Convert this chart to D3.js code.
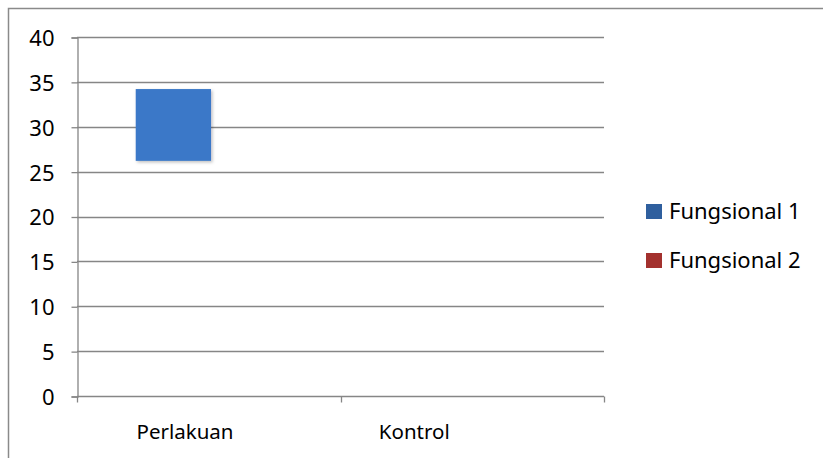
<!DOCTYPE html>
<html>
<head>
<meta charset="utf-8">
<script src="https://cdn.jsdelivr.net/npm/d3@7"></script>
<style>
  html, body { margin: 0; padding: 0; background: #fff; }
  svg { display: block; }
  text { font-family: "Noto Sans", "Open Sans", sans-serif; fill: #000; }
</style>
</head>
<body>
<svg id="chart" width="823" height="458"></svg>
<script>
// Categories on the horizontal axis
const categories = ["Perlakuan", "Kontrol"];
// Series names shown in the legend
const seriesNames = ["Fungsional 1", "Fungsional 2"];
// Floating bar ranges per series: [low, high] for each category (null = no bar)
const fungsional1 = [[26.2, 34.2], null];
const fungsional2 = [null, null];
// Value axis ticks
const yTicks = [0, 5, 10, 15, 20, 25, 30, 35, 40];

const seriesColors = ["#3a78c8", "#a3312e"];
const legendColors = ["#2f5f9e", "#a3312e"];

const svg = d3.select("#chart");
const W = 823, H = 458;

// Outer frame (top and left edges visible, the rest runs off the page)
svg.append("rect")
  .attr("x", 8.5).attr("y", 8.5)
  .attr("width", W + 20).attr("height", H + 20)
  .attr("fill", "none").attr("stroke", "#8a8a8a").attr("stroke-width", 1.5);

const plot = { left: 77, right: 604, top: 37, bottom: 396 };

const x = d3.scaleBand()
  .domain(categories)
  .range([plot.left, plot.right])
  .paddingInner(0).paddingOuter(0);

const xSeries = d3.scaleBand()
  .domain(seriesNames)
  .range([0, x.bandwidth()])
  .paddingInner(0)
  .paddingOuter(0.75)
  .align(0.52);

const y = d3.scaleLinear()
  .domain([0, 40])
  .range([plot.bottom, plot.top]);

// Horizontal gridlines
svg.append("g")
  .selectAll("line")
  .data(yTicks.filter(t => t > 0))
  .join("line")
  .attr("x1", plot.left).attr("x2", plot.right)
  .attr("y1", d => Math.round(y(d)) + 0.5).attr("y2", d => Math.round(y(d)) + 0.5)
  .attr("stroke", "#868686").attr("stroke-width", 1.3);

// Value axis
const yAxis = svg.append("g")
  .attr("transform", `translate(${plot.left + 0.5},0.5)`)
  .call(d3.axisLeft(y).tickValues(yTicks).tickSize(6).tickPadding(17).tickFormat(d3.format("d")));
yAxis.select(".domain").attr("stroke", "#868686").attr("stroke-width", 1.3);
yAxis.selectAll(".tick line").attr("stroke", "#868686").attr("stroke-width", 1.3);
yAxis.selectAll(".tick text")
  .attr("font-size", 22).attr("dy", "0.36em")
  .style("font-family", "'Noto Sans', sans-serif").attr("fill", "#000");

// Category axis: ticks sit on the band boundaries
const xAxisG = svg.append("g").attr("transform", `translate(0,${plot.bottom + 0.5})`);
xAxisG.append("line")
  .attr("x1", plot.left).attr("x2", plot.right)
  .attr("stroke", "#868686").attr("stroke-width", 1.3);
const boundaries = categories.map(c => x(c)).concat([x(categories[categories.length - 1]) + x.bandwidth()]);
xAxisG.selectAll("line.tk")
  .data(boundaries)
  .join("line")
  .attr("class", "tk")
  .attr("x1", d => Math.round(d) + 0.5).attr("x2", d => Math.round(d) + 0.5)
  .attr("y1", 0).attr("y2", 6)
  .attr("stroke", "#868686").attr("stroke-width", 1.3);

// Category labels
const labelX = d3.scalePoint()
  .domain(categories)
  .range([plot.left + x.bandwidth() * 0.41, plot.left + x.bandwidth() * 1.28]);
xAxisG.selectAll("text")
  .data(categories)
  .join("text")
  .attr("x", d => labelX(d))
  .attr("y", 42)
  .attr("text-anchor", "middle")
  .attr("font-size", 20.5)
  .text(d => d);

// Soft shadow under the bars
const defs = svg.append("defs");
const f = defs.append("filter").attr("id", "shadow")
  .attr("x", "-10%").attr("y", "-10%").attr("width", "130%").attr("height", "130%");
f.append("feDropShadow").attr("dx", 1.5).attr("dy", 1.5).attr("stdDeviation", 1.5)
  .attr("flood-color", "#000").attr("flood-opacity", 0.25);

// Bars
const seriesData = [fungsional1, fungsional2];
const barData = [];
seriesData.forEach((vals, si) => {
  vals.forEach((v, ci) => {
    if (v) barData.push({ series: seriesNames[si], cat: categories[ci], lo: v[0], hi: v[1], color: seriesColors[si] });
  });
});
svg.append("g")
  .selectAll("rect")
  .data(barData)
  .join("rect")
  .attr("x", d => x(d.cat) + xSeries(d.series))
  .attr("width", xSeries.bandwidth())
  .attr("y", d => y(d.hi))
  .attr("height", d => y(d.lo) - y(d.hi))
  .attr("fill", d => d.color)
  .attr("filter", "url(#shadow)");

// Legend
const legend = svg.append("g");
const legendRow = d3.scalePoint().domain(seriesNames).range([211.5, 260.5]);
const items = legend.selectAll("g").data(seriesNames).join("g")
  .attr("transform", d => `translate(646,${legendRow(d)})`);
items.append("rect")
  .attr("x", 0).attr("y", -7.5).attr("width", 16).attr("height", 15)
  .attr("fill", (d, i) => legendColors[i]);
items.append("text")
  .attr("x", 23).attr("y", 0).attr("dy", "0.36em")
  .attr("font-size", 22)
  .text(d => d);
</script>
</body>
</html>
